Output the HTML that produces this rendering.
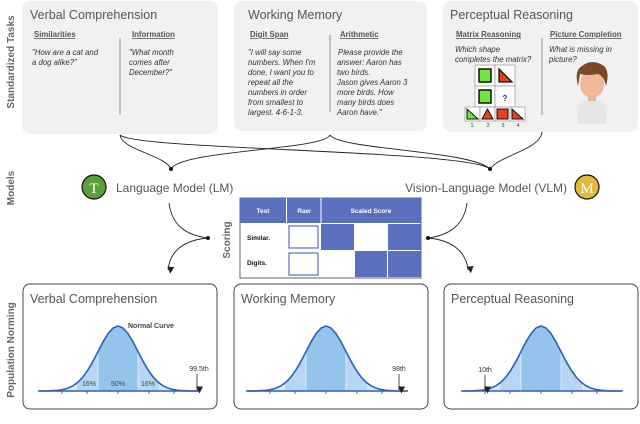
<!DOCTYPE html>
<html><head><meta charset="utf-8"><style>
body{margin:0;background:#fff;}
svg{display:block;font-family:"Liberation Sans",sans-serif;}
.t{font-size:12.5px;fill:#555;}
.h{font-size:7.8px;font-weight:bold;fill:#555;text-decoration:underline;}
.b{font-size:7.8px;font-style:italic;fill:#333;}
.side{font-size:10px;font-weight:bold;fill:#666;}
</style></head><body>
<svg width="640" height="424" viewBox="0 0 640 424">
<defs>
<path id="g" d="M-80,0 L-70,-0.1 L-60,-0.7 L-55,-1.5 L-50,-2.9 L-45,-5.2 L-40,-8.8 L-35,-14.1 L-30,-21.1 L-25,-29.8 L-20,-39.4 L-15,-49.1 L-10,-57.4 L-5,-63 L0,-65 L5,-63 L10,-57.4 L15,-49.1 L20,-39.4 L25,-29.8 L30,-21.1 L35,-14.1 L40,-8.8 L45,-5.2 L50,-2.9 L55,-1.5 L60,-0.7 L70,-0.1 L80,0"/>
<clipPath id="cg"><use href="#g"/></clipPath>
<g id="curve">
<g clip-path="url(#cg)">
<rect x="-80" y="-70" width="160" height="70" fill="#dbe9f8"/>
<rect x="-41" y="-70" width="82" height="70" fill="#b6d6f3"/>
<rect x="-20" y="-70" width="40" height="70" fill="#94c3ec"/>
<line x1="-20" y1="-70" x2="-20" y2="0" stroke="#fff" stroke-width="0.6"/>
<line x1="20" y1="-70" x2="20" y2="0" stroke="#fff" stroke-width="0.6"/>
</g>
<use href="#g" fill="none" stroke="#2a62b8" stroke-width="1.6"/>
<line x1="-78" y1="0" x2="82" y2="0" stroke="#3a5fb0" stroke-width="1.6"/>
<g stroke="#3a5fb0" stroke-width="1"><line x1="-56" y1="0" x2="-56" y2="3"/><line x1="-31" y1="0" x2="-31" y2="3"/><line x1="0" y1="0" x2="0" y2="3"/><line x1="31" y1="0" x2="31" y2="3"/><line x1="56" y1="0" x2="56" y2="3"/></g>
</g>
<marker id="ar" markerUnits="userSpaceOnUse" markerWidth="7" markerHeight="7" refX="3.5" refY="6" orient="auto" viewBox="0 0 7 7"><path d="M0,0 L7,0 L3.5,7z" fill="#222" transform="rotate(-90 3.5 3.5)"/></marker>
</defs>

<text class="side" transform="translate(14,62) rotate(-90)" text-anchor="middle">Standardized Tasks</text>
<text class="side" transform="translate(14,188) rotate(-90)" text-anchor="middle">Models</text>
<text class="side" transform="translate(14,350) rotate(-90)" text-anchor="middle">Population Norming</text>
<text class="side" transform="translate(230,240) rotate(-90)" text-anchor="middle">Scoring</text>

<rect x="22" y="1" width="196" height="133" rx="8" fill="#f1f1f1"/>
<rect x="234" y="1" width="193" height="130" rx="8" fill="#f1f1f1"/>
<rect x="443" y="1" width="195" height="131" rx="8" fill="#f1f1f1"/>

<text class="t" x="30" y="19">Verbal Comprehension</text>
<text class="h" x="34" y="37">Similarities</text>
<text class="b" x="32" y="55">"How are a cat and</text>
<text class="b" x="32" y="65">a dog alike?"</text>
<line x1="120" y1="38" x2="120" y2="115" stroke="#777" stroke-width="0.8"/>
<text class="h" x="132" y="37">Information</text>
<text class="b" x="129" y="55">"What month</text>
<text class="b" x="129" y="65">comes after</text>
<text class="b" x="129" y="75">December?"</text>

<text class="t" x="248" y="19">Working Memory</text>
<text class="h" x="250" y="37">Digit Span</text>
<text class="b" x="248" y="55">"I will say some</text><text class="b" x="248" y="65">numbers.  When I'm</text><text class="b" x="248" y="75">done, I want you to</text><text class="b" x="248" y="85">repeat all the</text><text class="b" x="248" y="95">numbers in order</text><text class="b" x="248" y="105">from smallest to</text><text class="b" x="248" y="115">largest. 4-6-1-3.</text>
<line x1="330" y1="35" x2="330" y2="112" stroke="#777" stroke-width="0.8"/>
<text class="h" x="340" y="37">Arithmetic</text>
<text class="b" x="338" y="55"> Please provide the</text><text class="b" x="337" y="65">answer:  Aaron has</text><text class="b" x="337" y="75">two birds.</text><text class="b" x="337" y="85">Jason gives Aaron 3</text><text class="b" x="337" y="95">more birds. How</text><text class="b" x="337" y="105">many birds does</text><text class="b" x="337" y="115">Aaron have."</text>

<text class="t" x="450" y="19">Perceptual Reasoning</text>
<text class="h" x="456" y="37">Matrix Reasoning</text>
<text class="b" x="455" y="52">Which shape</text>
<text class="b" x="455" y="62">completes the matrix?</text>
<line x1="542" y1="38" x2="542" y2="115" stroke="#777" stroke-width="0.8"/>
<text class="h" x="550" y="37">Picture Completion</text>
<text class="b" x="549" y="52">What is missing in</text>
<text class="b" x="549" y="62">picture?</text>
<g stroke="#888" stroke-width="0.6" fill="#fff">
<rect x="475" y="65" width="20" height="21"/><rect x="495" y="65" width="20" height="21"/>
<rect x="475" y="86" width="20" height="21"/><rect x="495" y="86" width="20" height="21"/>
</g>
<rect x="479" y="69" width="12" height="13" fill="#6ee63c" stroke="#111" stroke-width="1.5"/>
<path d="M499,69 L499,82 L512,82z" fill="#e8401e" stroke="#111" stroke-width="1.3"/>
<rect x="479" y="90" width="12" height="13" fill="#6ee63c" stroke="#111" stroke-width="1.5"/>
<text x="505" y="101" font-size="8" font-weight="bold" fill="#333" text-anchor="middle">?</text>
<g stroke="#888" stroke-width="0.6" fill="#fff">
<rect x="465" y="107" width="15" height="14"/><rect x="480" y="107" width="15" height="14"/><rect x="495" y="107" width="15" height="14"/><rect x="510" y="107" width="15" height="14"/>
</g>
<path d="M467,109 L467,119 L478,119z" fill="#6ee63c" stroke="#111"/>
<path d="M482,119 L487.5,109 L493,119z" fill="#e8401e" stroke="#111"/>
<rect x="497" y="109" width="11" height="10" fill="#e8401e" stroke="#111"/>
<path d="M512,109 L512,119 L523,119z" fill="#e8401e" stroke="#111"/>
<g font-size="5.5" fill="#444" text-anchor="middle"><text x="472" y="127">1</text><text x="488" y="127">2</text><text x="503" y="127">3</text><text x="518" y="127">4</text></g>
<path d="M578,124 L578,108 Q580,101 592,99 Q604,101 606,108 L606,124z" fill="#e6e6e6"/>
<rect x="588" y="94" width="8" height="7" fill="#e8b090"/>
<ellipse cx="592" cy="84" rx="12" ry="14" fill="#f0b898"/>
<path d="M578,86 Q574,70 582,66 Q592,58 604,66 Q610,72 606,86 Q604,76 598,74 Q588,76 580,74z" fill="#7a4a28"/>

<g fill="none" stroke="#222" stroke-width="0.9">
<path d="M120,135 C122,150 165,155 171,169"/>
<path d="M330,135 C325,150 180,150 171,169"/>
<path d="M120,135 C135,150 470,150 490,169"/>
<path d="M330,135 C340,150 470,150 490,169"/>
<path d="M542,132 C540,150 500,155 490,169"/>
</g>
<circle cx="171" cy="169" r="2" fill="#111"/>
<circle cx="490" cy="169" r="2" fill="#111"/>

<circle cx="94" cy="187" r="12" fill="#5aa03a" stroke="#111" stroke-width="1.2"/>
<text x="94" y="193" font-family="Liberation Serif" font-size="15" fill="#fff" text-anchor="middle">T</text>
<text x="116" y="192" font-size="12" fill="#555">Language Model (LM)</text>
<text x="567" y="192" font-size="12" fill="#555" text-anchor="end">Vision-Language Model (VLM)</text>
<circle cx="587" cy="187" r="12" fill="#e2b93a" stroke="#111" stroke-width="1.2"/>
<text x="587" y="193" font-family="Liberation Serif" font-size="15" fill="#fff" text-anchor="middle">M</text>

<g fill="none" stroke="#222" stroke-width="0.9">
<path d="M169,203 C172,225 185,235 208,238"/>
<path d="M208,238 C185,240 170,250 168,270" marker-end="url(#ar)"/>
<path d="M467,203 C464,225 450,235 428,238"/>
<path d="M428,238 C450,240 466,250 468,270" marker-end="url(#ar)"/>
</g>
<circle cx="208" cy="238" r="2" fill="#111"/>
<circle cx="428" cy="238" r="2" fill="#111"/>

<rect x="240" y="198" width="181" height="80" fill="#fff" stroke="#666" stroke-width="1"/>
<rect x="240" y="198" width="181" height="25" fill="#5b6fbf"/>
<line x1="286.5" y1="198" x2="286.5" y2="223" stroke="#fff"/>
<line x1="321" y1="198" x2="321" y2="223" stroke="#fff"/>
<g font-size="6.5" font-weight="bold" fill="#fff" text-anchor="middle"><text x="263" y="213">Test</text><text x="304" y="213">Raw</text><text x="371" y="213">Scaled Score</text></g>
<g font-size="6.5" font-weight="bold" fill="#111"><text x="247" y="240">Similar.</text><text x="247" y="265">Digits.</text></g>
<rect x="289" y="226" width="29" height="22" fill="#fff" stroke="#5b6fbf" stroke-width="1.2"/>
<rect x="289" y="253" width="29" height="22" fill="#fff" stroke="#5b6fbf" stroke-width="1.2"/>
<g fill="#5b6fbf"><rect x="321" y="224" width="33" height="26"/><rect x="388" y="224" width="33" height="26"/><rect x="355" y="251" width="32" height="26"/><rect x="388" y="251" width="33" height="26"/></g>

<rect x="23" y="284" width="194" height="125" rx="7" fill="#fff" stroke="#444" stroke-width="1"/>
<rect x="234" y="284" width="194" height="125" rx="7" fill="#fff" stroke="#444" stroke-width="1"/>
<rect x="444" y="284" width="194" height="125" rx="7" fill="#fff" stroke="#444" stroke-width="1"/>
<text class="t" x="30" y="303">Verbal Comprehension</text>
<text class="t" x="241" y="303">Working Memory</text>
<text class="t" x="451" y="303">Perceptual Reasoning</text>

<use href="#curve" transform="translate(118,391)"/>
<use href="#curve" transform="translate(326,391)"/>
<use href="#curve" transform="translate(541,391)"/>
<text x="128" y="328" font-size="7" font-weight="bold" fill="#444">Normal Curve</text>
<g font-size="7" fill="#444" text-anchor="middle"><text x="89" y="386">16%</text><text x="118" y="386">50%</text><text x="148" y="386">16%</text></g>
<g font-size="7" fill="#333" text-anchor="middle"><text x="199" y="371">99.5th</text><text x="399" y="371">98th</text><text x="485" y="372">10th</text></g>
<g stroke="#222" stroke-width="0.8"><line x1="197" y1="374" x2="197" y2="390" marker-end="url(#ar)"/><line x1="399" y1="374" x2="399" y2="390" marker-end="url(#ar)"/><line x1="485" y1="375" x2="485" y2="390" marker-end="url(#ar)"/></g>
</svg>
</body></html>
